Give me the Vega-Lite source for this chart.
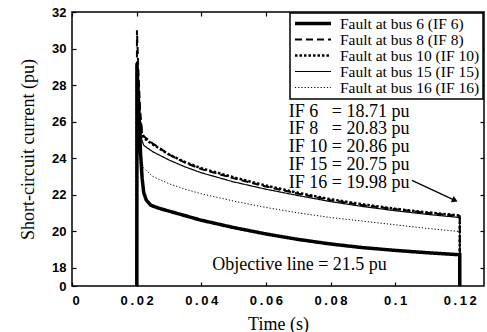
{
  "$schema": "https://vega.github.io/schema/vega-lite/v6.json",
  "width": 412,
  "height": 274,
  "autosize": {"type": "none"},
  "padding": {"left": 72, "top": 12, "right": 3, "bottom": 46},
  "background": "white",
  "config": {
    "view": {"stroke": "black", "strokeWidth": 1.5},
    "axis": {
      "domain": false, "grid": false, "tickColor": "black", "tickSize": -4, "tickWidth": 1.2,
      "labelFont": "Liberation Sans", "labelFontWeight": "bold", "labelFontSize": 13, "labelColor": "black",
      "titleFont": "Liberation Serif", "titleFontWeight": "normal", "titleFontSize": 18, "titleColor": "black"
    },
    "legend": {
      "orient": "top-right", "offset": 1, "strokeColor": "black", "strokeWidth": 1.5, "fillColor": "white",
      "padding": 3, "symbolType": "stroke", "symbolSize": 1300, "symbolStrokeColor": "black", "clipHeight": 15,
      "labelFont": "Liberation Serif", "labelFontSize": 15.5, "labelColor": "black", "rowPadding": 0, "labelOffset": 7
    }
  },
  "datasets": {
    "curves": [
      {"s": "Fault at bus 6 (IF 6)", "i": 0, "t": 0.02, "v": 0},
      {"s": "Fault at bus 6 (IF 6)", "i": 1, "t": 0.0201, "v": 29.2},
      {"s": "Fault at bus 6 (IF 6)", "i": 2, "t": 0.0207, "v": 26.5},
      {"s": "Fault at bus 6 (IF 6)", "i": 3, "t": 0.0212, "v": 24.3},
      {"s": "Fault at bus 6 (IF 6)", "i": 4, "t": 0.0217, "v": 22.9},
      {"s": "Fault at bus 6 (IF 6)", "i": 5, "t": 0.0222, "v": 22.1},
      {"s": "Fault at bus 6 (IF 6)", "i": 6, "t": 0.023, "v": 21.7},
      {"s": "Fault at bus 6 (IF 6)", "i": 7, "t": 0.0244, "v": 21.42},
      {"s": "Fault at bus 6 (IF 6)", "i": 8, "t": 0.027, "v": 21.25},
      {"s": "Fault at bus 6 (IF 6)", "i": 9, "t": 0.03, "v": 21.1},
      {"s": "Fault at bus 6 (IF 6)", "i": 10, "t": 0.035, "v": 20.85},
      {"s": "Fault at bus 6 (IF 6)", "i": 11, "t": 0.04, "v": 20.6},
      {"s": "Fault at bus 6 (IF 6)", "i": 12, "t": 0.05, "v": 20.2},
      {"s": "Fault at bus 6 (IF 6)", "i": 13, "t": 0.06, "v": 19.85},
      {"s": "Fault at bus 6 (IF 6)", "i": 14, "t": 0.07, "v": 19.55},
      {"s": "Fault at bus 6 (IF 6)", "i": 15, "t": 0.08, "v": 19.3},
      {"s": "Fault at bus 6 (IF 6)", "i": 16, "t": 0.09, "v": 19.1},
      {"s": "Fault at bus 6 (IF 6)", "i": 17, "t": 0.1, "v": 18.95},
      {"s": "Fault at bus 6 (IF 6)", "i": 18, "t": 0.11, "v": 18.82},
      {"s": "Fault at bus 6 (IF 6)", "i": 19, "t": 0.12, "v": 18.71},
      {"s": "Fault at bus 6 (IF 6)", "i": 20, "t": 0.12, "v": 0},

      {"s": "Fault at bus 8 (IF 8)", "i": 0, "t": 0.02, "v": 0},
      {"s": "Fault at bus 8 (IF 8)", "i": 1, "t": 0.0201, "v": 31},
      {"s": "Fault at bus 8 (IF 8)", "i": 2, "t": 0.0206, "v": 28.5},
      {"s": "Fault at bus 8 (IF 8)", "i": 3, "t": 0.0211, "v": 26.6},
      {"s": "Fault at bus 8 (IF 8)", "i": 4, "t": 0.0216, "v": 25.6},
      {"s": "Fault at bus 8 (IF 8)", "i": 5, "t": 0.0222, "v": 25.2},
      {"s": "Fault at bus 8 (IF 8)", "i": 6, "t": 0.025, "v": 24.8},
      {"s": "Fault at bus 8 (IF 8)", "i": 7, "t": 0.03, "v": 24.2},
      {"s": "Fault at bus 8 (IF 8)", "i": 8, "t": 0.035, "v": 23.75},
      {"s": "Fault at bus 8 (IF 8)", "i": 9, "t": 0.04, "v": 23.4},
      {"s": "Fault at bus 8 (IF 8)", "i": 10, "t": 0.05, "v": 22.9},
      {"s": "Fault at bus 8 (IF 8)", "i": 11, "t": 0.06, "v": 22.45},
      {"s": "Fault at bus 8 (IF 8)", "i": 12, "t": 0.07, "v": 22.05},
      {"s": "Fault at bus 8 (IF 8)", "i": 13, "t": 0.08, "v": 21.7},
      {"s": "Fault at bus 8 (IF 8)", "i": 14, "t": 0.09, "v": 21.42},
      {"s": "Fault at bus 8 (IF 8)", "i": 15, "t": 0.1, "v": 21.2},
      {"s": "Fault at bus 8 (IF 8)", "i": 16, "t": 0.11, "v": 21.0},
      {"s": "Fault at bus 8 (IF 8)", "i": 17, "t": 0.12, "v": 20.83},
      {"s": "Fault at bus 8 (IF 8)", "i": 18, "t": 0.12, "v": 0},

      {"s": "Fault at bus 10 (IF 10)", "i": 0, "t": 0.02, "v": 0},
      {"s": "Fault at bus 10 (IF 10)", "i": 1, "t": 0.0201, "v": 29},
      {"s": "Fault at bus 10 (IF 10)", "i": 2, "t": 0.0206, "v": 27.4},
      {"s": "Fault at bus 10 (IF 10)", "i": 3, "t": 0.0211, "v": 26.0},
      {"s": "Fault at bus 10 (IF 10)", "i": 4, "t": 0.0216, "v": 25.4},
      {"s": "Fault at bus 10 (IF 10)", "i": 5, "t": 0.0222, "v": 25.1},
      {"s": "Fault at bus 10 (IF 10)", "i": 6, "t": 0.025, "v": 24.75},
      {"s": "Fault at bus 10 (IF 10)", "i": 7, "t": 0.03, "v": 24.2},
      {"s": "Fault at bus 10 (IF 10)", "i": 8, "t": 0.035, "v": 23.78},
      {"s": "Fault at bus 10 (IF 10)", "i": 9, "t": 0.04, "v": 23.45},
      {"s": "Fault at bus 10 (IF 10)", "i": 10, "t": 0.05, "v": 22.95},
      {"s": "Fault at bus 10 (IF 10)", "i": 11, "t": 0.06, "v": 22.5},
      {"s": "Fault at bus 10 (IF 10)", "i": 12, "t": 0.07, "v": 22.1},
      {"s": "Fault at bus 10 (IF 10)", "i": 13, "t": 0.08, "v": 21.75},
      {"s": "Fault at bus 10 (IF 10)", "i": 14, "t": 0.09, "v": 21.47},
      {"s": "Fault at bus 10 (IF 10)", "i": 15, "t": 0.1, "v": 21.23},
      {"s": "Fault at bus 10 (IF 10)", "i": 16, "t": 0.11, "v": 21.03},
      {"s": "Fault at bus 10 (IF 10)", "i": 17, "t": 0.12, "v": 20.86},
      {"s": "Fault at bus 10 (IF 10)", "i": 18, "t": 0.12, "v": 0},

      {"s": "Fault at bus 15 (IF 15)", "i": 0, "t": 0.02, "v": 0},
      {"s": "Fault at bus 15 (IF 15)", "i": 1, "t": 0.0201, "v": 28.5},
      {"s": "Fault at bus 15 (IF 15)", "i": 2, "t": 0.0206, "v": 26.8},
      {"s": "Fault at bus 15 (IF 15)", "i": 3, "t": 0.0211, "v": 25.6},
      {"s": "Fault at bus 15 (IF 15)", "i": 4, "t": 0.0216, "v": 25.0},
      {"s": "Fault at bus 15 (IF 15)", "i": 5, "t": 0.0222, "v": 24.7},
      {"s": "Fault at bus 15 (IF 15)", "i": 6, "t": 0.025, "v": 24.35},
      {"s": "Fault at bus 15 (IF 15)", "i": 7, "t": 0.03, "v": 23.9},
      {"s": "Fault at bus 15 (IF 15)", "i": 8, "t": 0.035, "v": 23.52},
      {"s": "Fault at bus 15 (IF 15)", "i": 9, "t": 0.04, "v": 23.2},
      {"s": "Fault at bus 15 (IF 15)", "i": 10, "t": 0.05, "v": 22.7},
      {"s": "Fault at bus 15 (IF 15)", "i": 11, "t": 0.06, "v": 22.3},
      {"s": "Fault at bus 15 (IF 15)", "i": 12, "t": 0.07, "v": 21.95},
      {"s": "Fault at bus 15 (IF 15)", "i": 13, "t": 0.08, "v": 21.62},
      {"s": "Fault at bus 15 (IF 15)", "i": 14, "t": 0.09, "v": 21.35},
      {"s": "Fault at bus 15 (IF 15)", "i": 15, "t": 0.1, "v": 21.12},
      {"s": "Fault at bus 15 (IF 15)", "i": 16, "t": 0.11, "v": 20.92},
      {"s": "Fault at bus 15 (IF 15)", "i": 17, "t": 0.12, "v": 20.75},
      {"s": "Fault at bus 15 (IF 15)", "i": 18, "t": 0.12, "v": 0},

      {"s": "Fault at bus 16 (IF 16)", "i": 0, "t": 0.02, "v": 0},
      {"s": "Fault at bus 16 (IF 16)", "i": 1, "t": 0.0201, "v": 27.5},
      {"s": "Fault at bus 16 (IF 16)", "i": 2, "t": 0.0206, "v": 25.8},
      {"s": "Fault at bus 16 (IF 16)", "i": 3, "t": 0.0211, "v": 24.5},
      {"s": "Fault at bus 16 (IF 16)", "i": 4, "t": 0.0216, "v": 23.8},
      {"s": "Fault at bus 16 (IF 16)", "i": 5, "t": 0.0222, "v": 23.45},
      {"s": "Fault at bus 16 (IF 16)", "i": 6, "t": 0.025, "v": 23.0},
      {"s": "Fault at bus 16 (IF 16)", "i": 7, "t": 0.03, "v": 22.6},
      {"s": "Fault at bus 16 (IF 16)", "i": 8, "t": 0.035, "v": 22.3},
      {"s": "Fault at bus 16 (IF 16)", "i": 9, "t": 0.04, "v": 22.05},
      {"s": "Fault at bus 16 (IF 16)", "i": 10, "t": 0.05, "v": 21.65},
      {"s": "Fault at bus 16 (IF 16)", "i": 11, "t": 0.06, "v": 21.3},
      {"s": "Fault at bus 16 (IF 16)", "i": 12, "t": 0.07, "v": 21.0},
      {"s": "Fault at bus 16 (IF 16)", "i": 13, "t": 0.08, "v": 20.75},
      {"s": "Fault at bus 16 (IF 16)", "i": 14, "t": 0.09, "v": 20.55},
      {"s": "Fault at bus 16 (IF 16)", "i": 15, "t": 0.1, "v": 20.35},
      {"s": "Fault at bus 16 (IF 16)", "i": 16, "t": 0.11, "v": 20.15},
      {"s": "Fault at bus 16 (IF 16)", "i": 17, "t": 0.12, "v": 19.98},
      {"s": "Fault at bus 16 (IF 16)", "i": 18, "t": 0.12, "v": 0}
    ],
    "notes": [
      {"label": "IF 6\u00a0\u00a0\u00a0= 18.71 pu", "t": 0.0671, "v": 26.55},
      {"label": "IF 8\u00a0\u00a0\u00a0= 20.83 pu", "t": 0.0671, "v": 25.58},
      {"label": "IF 10 = 20.86 pu", "t": 0.0671, "v": 24.6},
      {"label": "IF 15 = 20.75 pu", "t": 0.0671, "v": 23.63},
      {"label": "IF 16 = 19.98 pu", "t": 0.0671, "v": 22.65},
      {"label": "Objective line = 21.5 pu", "t": 0.0434, "v": 18.15}
    ],
    "arrow": [
      {"t": 0.1052, "v": 22.78, "t2": 0.1185, "v2": 21.69}
    ]
  },
  "layer": [
    {
      "data": {"name": "curves"},
      "mark": {"type": "line", "clip": true, "color": "black", "strokeCap": "butt"},
      "encoding": {
        "x": {"field": "t", "type": "quantitative", "title": "Time (s)",
              "scale": {"domain": [0, 0.1275], "nice": false, "zero": false},
              "axis": {"values": [0, 0.02, 0.04, 0.06, 0.08, 0.1, 0.12], "format": "~g", "labelPadding": 12,
                       "labelExpr": "join(split(datum.label, ''), '\u2009')", "titlePadding": 8}},
        "y": {"field": "v", "type": "quantitative", "title": "Short-circuit current (pu)",
              "scale": {"domain": [17, 32], "nice": false, "zero": false},
              "axis": {"values": [17, 18, 20, 22, 24, 26, 28, 30, 32], "labelPadding": 10,
                       "labelExpr": "datum.value == 17 ? '0' : datum.label", "titlePadding": 14}},
        "order": {"field": "i", "type": "quantitative"},
        "strokeDash": {"field": "s", "type": "nominal", "title": null,
                       "scale": {"domain": ["Fault at bus 6 (IF 6)", "Fault at bus 8 (IF 8)", "Fault at bus 10 (IF 10)", "Fault at bus 15 (IF 15)", "Fault at bus 16 (IF 16)"],
                                 "range": [[1, 0], [7, 4], [2.5, 2], [1, 0], [1.2, 2]]}},
        "strokeWidth": {"field": "s", "type": "nominal", "title": null,
                        "scale": {"type": "ordinal", "domain": ["Fault at bus 6 (IF 6)", "Fault at bus 8 (IF 8)", "Fault at bus 10 (IF 10)", "Fault at bus 15 (IF 15)", "Fault at bus 16 (IF 16)"],
                                  "range": [3.5, 2, 2.5, 1.2, 1]}}
      }
    },
    {
      "mark": {"type": "rule", "color": "black", "strokeWidth": 1.5},
      "encoding": {"y": {"datum": 21.5, "axis": null}}
    },
    {
      "data": {"name": "notes"},
      "mark": {"type": "text", "align": "left", "baseline": "middle", "font": "Liberation Serif", "fontSize": 18, "color": "black"},
      "encoding": {
        "x": {"field": "t", "type": "quantitative", "axis": null},
        "y": {"field": "v", "type": "quantitative", "axis": null},
        "text": {"field": "label"}
      }
    },
    {
      "data": {"name": "arrow"},
      "mark": {"type": "rule", "color": "black", "strokeWidth": 1.3},
      "encoding": {
        "x": {"field": "t", "type": "quantitative", "axis": null},
        "y": {"field": "v", "type": "quantitative", "axis": null},
        "x2": {"field": "t2"},
        "y2": {"field": "v2"}
      }
    },
    {
      "data": {"name": "arrow"},
      "mark": {"type": "point", "shape": "triangle-up", "filled": true, "color": "black", "size": 45, "angle": 115, "opacity": 1},
      "encoding": {
        "x": {"field": "t2", "type": "quantitative", "axis": null},
        "y": {"field": "v2", "type": "quantitative", "axis": null}
      }
    },
    {
      "data": {"name": "arrow"},
      "mark": {"type": "point", "opacity": 0},
      "encoding": {
        "x": {"field": "t", "type": "quantitative",
              "axis": {"orient": "top", "labels": false, "title": null, "values": [0, 0.02, 0.04, 0.06, 0.08, 0.1, 0.12]}},
        "y": {"field": "v", "type": "quantitative",
              "axis": {"orient": "right", "labels": false, "title": null, "values": [18, 20, 22, 24, 26, 28, 30, 32]}}
      }
    }
  ],
  "resolve": {"axis": {"x": "independent", "y": "independent"}}
}
